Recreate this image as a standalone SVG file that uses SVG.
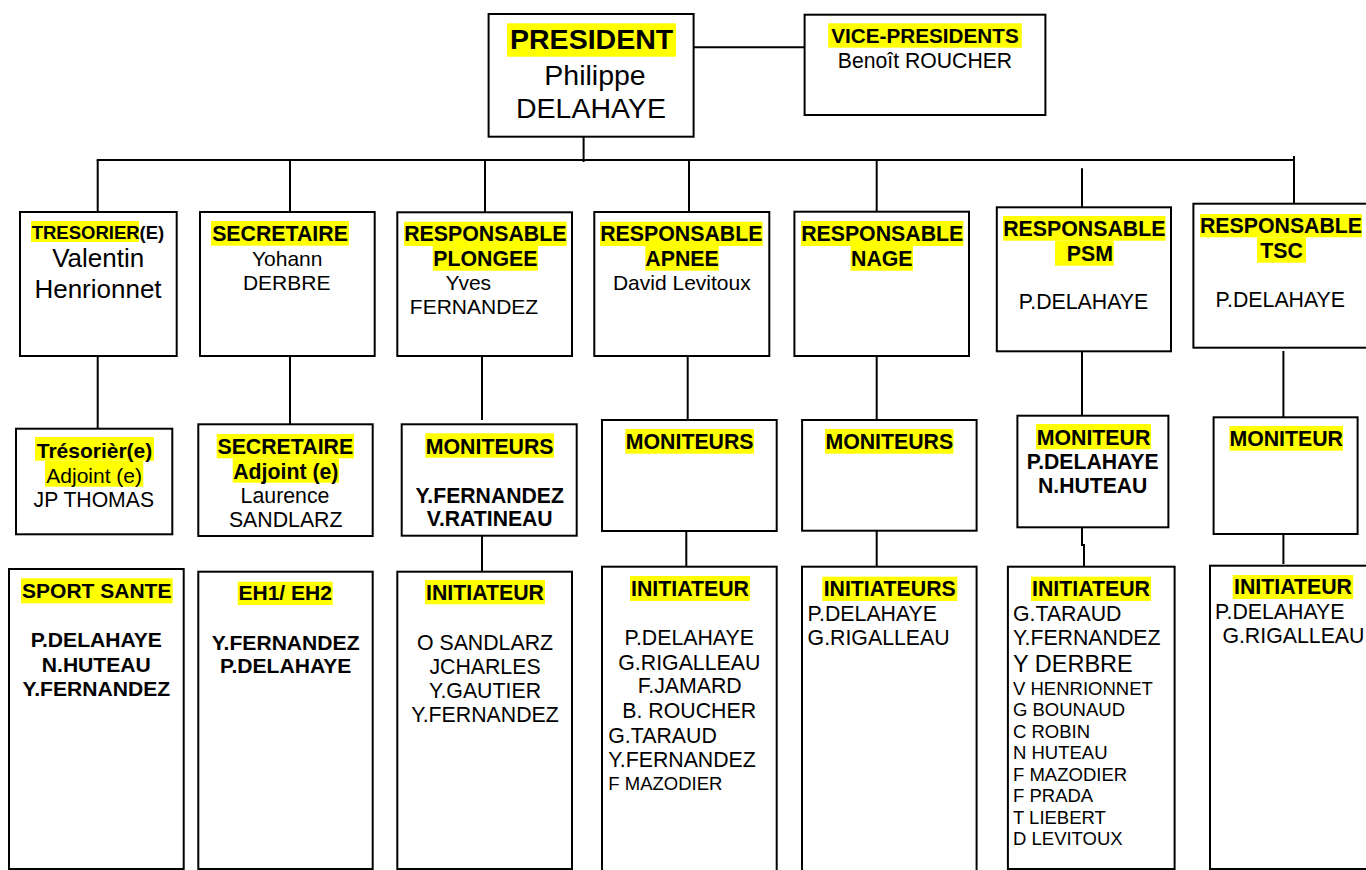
<svg xmlns="http://www.w3.org/2000/svg" width="1366" height="870" viewBox="0 0 1366 870">
<style>
.box{fill:#fff;stroke:#000;stroke-width:2}
.hl{fill:#ffff00}
.ln{fill:none;stroke:#000;stroke-width:2}
text{font-family:"Liberation Sans",Arial,sans-serif;fill:#000;font-size:21.3px}
.b{font-weight:bold}
.c{text-anchor:middle}
.s{font-size:18.5px}
</style>
<rect width="1366" height="870" fill="#fff"/>
<g id="connectors">
<line class="ln" x1="693.6" y1="47.3" x2="804.6" y2="47.3"/>
<line class="ln" x1="583.6" y1="136.7" x2="583.6" y2="162"/>
<line class="ln" x1="96.7" y1="160" x2="1295" y2="160"/>
<line class="ln" x1="1294" y1="156" x2="1294" y2="211"/>
<line class="ln" x1="97.7" y1="160" x2="97.7" y2="212"/>
<line class="ln" x1="290" y1="160" x2="290" y2="212"/>
<line class="ln" x1="485" y1="160" x2="485" y2="212"/>
<line class="ln" x1="689" y1="160" x2="689" y2="212"/>
<line class="ln" x1="876.7" y1="160" x2="876.7" y2="212"/>
<line class="ln" x1="1082" y1="168.3" x2="1082" y2="207.3"/>
<line class="ln" x1="97.7" y1="356" x2="97.7" y2="428.7"/>
<line class="ln" x1="290" y1="356" x2="290" y2="424.3"/>
<line class="ln" x1="482" y1="356" x2="482" y2="420"/>
<line class="ln" x1="687.7" y1="356" x2="687.7" y2="420"/>
<line class="ln" x1="876.7" y1="356" x2="876.7" y2="420"/>
<line class="ln" x1="1082" y1="351" x2="1082" y2="415.7"/>
<line class="ln" x1="1283.4" y1="351" x2="1283.4" y2="417.3"/>
<line class="ln" x1="482" y1="535.7" x2="482" y2="580"/>
<line class="ln" x1="686.3" y1="531" x2="686.3" y2="566.7"/>
<line class="ln" x1="876.7" y1="530.7" x2="876.7" y2="567"/>
<polyline class="ln" points="1082,527.3 1082,545 1084,545 1084,566.7"/>
<line class="ln" x1="1283.4" y1="534" x2="1283.4" y2="564"/>
</g>
<g id="president">
<rect class="box" x="488.6" y="14" width="205" height="122.7"/>
<rect class="hl" x="507" y="23.3" width="169" height="33.4"/>
<text class="b c" x="591.6" y="49.3" style="font-size:28.5px">PRESIDENT</text>
<text class="c" x="595" y="85" style="font-size:28.5px">Philippe</text>
<text class="c" x="591" y="118.3" style="font-size:28.5px">DELAHAYE</text>
</g>
<g id="vice-presidents">
<rect class="box" x="804.6" y="14.7" width="240.8" height="100.3"/>
<rect class="hl" x="828.2" y="23.3" width="193.6" height="24.4"/>
<text class="b c" x="925" y="43.3" style="font-size:20.7px">VICE-PRESIDENTS</text>
<text class="c" x="925" y="68.3" style="font-size:21.2px">Benoît ROUCHER</text>
</g>
<g id="tresorier">
<rect class="box" x="20" y="212" width="156.7" height="144"/>
<rect class="hl" x="31" y="221" width="108" height="21"/>
<text class="b s" x="31.7" y="239.3">TRESORIER(E)</text>
<text class="c" x="98.2" y="267" style="font-size:26px">Valentin</text>
<text class="c" x="98" y="298" style="font-size:26px">Henrionnet</text>
</g>
<g id="secretaire">
<rect class="box" x="200" y="212" width="174.7" height="144"/>
<rect class="hl" x="211" y="221" width="138" height="24.7"/>
<text class="b c" x="280" y="240.7">SECRETAIRE</text>
<text class="c" x="287.2" y="265.7" style="font-size:21px">Yohann</text>
<text class="c" x="286.7" y="290" style="font-size:21px">DERBRE</text>
</g>
<g id="resp-plongee">
<rect class="box" x="397.3" y="212.3" width="174.7" height="143.7"/>
<rect class="hl" x="404" y="221.7" width="162.7" height="24.3"/>
<rect class="hl" x="432.7" y="246" width="105.3" height="24.7"/>
<text class="b c" x="485.3" y="240.7">RESPONSABLE</text>
<text class="b c" x="485.3" y="265.7">PLONGEE</text>
<text class="c" x="468.3" y="290" style="font-size:21px">Yves</text>
<text class="c" x="474" y="314" style="font-size:21px">FERNANDEZ</text>
</g>
<g id="resp-apnee">
<rect class="box" x="594.3" y="212" width="175" height="144"/>
<rect class="hl" x="600" y="221.7" width="162.7" height="24.3"/>
<rect class="hl" x="645.3" y="246" width="73.4" height="24.7"/>
<text class="b c" x="681.3" y="240.7">RESPONSABLE</text>
<text class="b c" x="682" y="265.7">APNEE</text>
<text class="c" x="681.8" y="290" style="font-size:21px">David Levitoux</text>
</g>
<g id="resp-nage">
<rect class="box" x="794.4" y="211.7" width="174.6" height="144.3"/>
<rect class="hl" x="801" y="221" width="162.4" height="25"/>
<rect class="hl" x="850.6" y="246" width="62.4" height="24.7"/>
<text class="b c" x="882.2" y="240.7">RESPONSABLE</text>
<text class="b c" x="881.8" y="265.7">NAGE</text>
</g>
<g id="resp-psm">
<rect class="box" x="996.8" y="207.3" width="174.2" height="144"/>
<rect class="hl" x="1003" y="216" width="162.5" height="24.7"/>
<rect class="hl" x="1055" y="240.7" width="58.7" height="25"/>
<text class="b c" x="1084.3" y="235.8">RESPONSABLE</text>
<text class="b c" x="1089.8" y="261.2">PSM</text>
<text class="c" x="1083.5" y="309.3">P.DELAHAYE</text>
</g>
<g id="resp-tsc">
<rect class="box" x="1193.4" y="203.7" width="180" height="144"/>
<rect class="hl" x="1200" y="214" width="162" height="23.3"/>
<rect class="hl" x="1257" y="237.3" width="49" height="25.4"/>
<text class="b c" x="1281" y="233.3">RESPONSABLE</text>
<text class="b c" x="1281.5" y="258.3">TSC</text>
<text class="c" x="1280.3" y="306.7">P.DELAHAYE</text>
</g>
<g id="tresorier-adjoint">
<rect class="box" x="16" y="428.7" width="156.3" height="105.6"/>
<rect class="hl" x="35" y="437" width="119" height="23.7"/>
<rect class="hl" x="45" y="460.7" width="98.3" height="26"/>
<text class="b c" x="94.5" y="457.7" style="font-size:21px">Trésorièr(e)</text>
<text class="c" x="94.2" y="482.7" style="font-size:21px">Adjoint (e)</text>
<text class="c" x="93.8" y="506.7" style="font-size:21.2px">JP THOMAS</text>
</g>
<g id="secretaire-adjoint">
<rect class="box" x="198.3" y="424.3" width="174.4" height="111.7"/>
<rect class="hl" x="216.7" y="434" width="137.3" height="24.3"/>
<rect class="hl" x="232.7" y="458.3" width="106.3" height="24.4"/>
<text class="b c" x="285.3" y="454">SECRETAIRE</text>
<text class="b c" x="285.8" y="479">Adjoint (e)</text>
<text class="c" x="285" y="503.3">Laurence</text>
<text class="c" x="285.7" y="526.7">SANDLARZ</text>
</g>
<g id="moniteurs-plongee">
<rect class="box" x="401.7" y="424.3" width="175" height="111.4"/>
<rect class="hl" x="425.3" y="433.3" width="128.7" height="24.4"/>
<text class="b c" x="489.7" y="454">MONITEURS</text>
<text class="b c" x="489.7" y="502.7" style="font-size:21.2px">Y.FERNANDEZ</text>
<text class="b c" x="489.7" y="525.7" style="font-size:21.2px">V.RATINEAU</text>
</g>
<g id="moniteurs-apnee">
<rect class="box" x="602" y="420" width="174.7" height="111"/>
<rect class="hl" x="625.3" y="429" width="128.7" height="24.7"/>
<text class="b c" x="689.7" y="449.3">MONITEURS</text>
</g>
<g id="moniteurs-nage">
<rect class="box" x="802.1" y="420" width="174.5" height="110.7"/>
<rect class="hl" x="825" y="429" width="128.5" height="24.7"/>
<text class="b c" x="889.3" y="449.3">MONITEURS</text>
</g>
<g id="moniteur-psm">
<rect class="box" x="1017.4" y="415.7" width="151" height="111.6"/>
<rect class="hl" x="1036" y="424" width="115" height="25.3"/>
<text class="b c" x="1093.5" y="445">MONITEUR</text>
<text class="b c" x="1092.7" y="469" style="font-size:21.2px">P.DELAHAYE</text>
<text class="b c" x="1092.7" y="493.3" style="font-size:21.2px">N.HUTEAU</text>
</g>
<g id="moniteur-tsc">
<rect class="box" x="1213.6" y="417.3" width="144" height="116.7"/>
<rect class="hl" x="1229.4" y="426" width="113.6" height="24.7"/>
<text class="b c" x="1286.2" y="446">MONITEUR</text>
</g>
<g id="sport-sante">
<rect class="box" x="9" y="569" width="174.7" height="300"/>
<rect class="hl" x="21" y="578.3" width="151.7" height="25"/>
<text class="b c" x="96.8" y="598.3" style="font-size:21px">SPORT SANTE</text>
<text class="b c" x="96.3" y="647.3" style="font-size:21.1px">P.DELAHAYE</text>
<text class="b c" x="96.3" y="671.7" style="font-size:21.1px">N.HUTEAU</text>
<text class="b c" x="96.3" y="696" style="font-size:21.1px">Y.FERNANDEZ</text>
</g>
<g id="eh1-eh2">
<rect class="box" x="198.3" y="571.7" width="174.4" height="297.3"/>
<rect class="hl" x="237.7" y="581.7" width="95" height="23.3"/>
<text class="b c" x="285.2" y="600" style="font-size:21px">EH1/ EH2</text>
<text class="b c" x="285.7" y="650" style="font-size:21.1px">Y.FERNANDEZ</text>
<text class="b c" x="285.7" y="673.3" style="font-size:21.1px">P.DELAHAYE</text>
</g>
<g id="initiateur-plongee">
<rect class="box" x="397.3" y="571.7" width="174.7" height="297.3"/>
<rect class="hl" x="425" y="580" width="120" height="24.3"/>
<text class="b c" x="485" y="600">INITIATEUR</text>
<text class="c" x="485" y="650">O SANDLARZ</text>
<text class="c" x="485" y="674">JCHARLES</text>
<text class="c" x="485" y="698.3">Y.GAUTIER</text>
<text class="c" x="485" y="722.3">Y.FERNANDEZ</text>
</g>
<g id="initiateur-apnee">
<rect class="box" x="602" y="566.7" width="174.7" height="310"/>
<rect class="hl" x="630" y="576" width="120" height="25"/>
<text class="b c" x="690" y="596">INITIATEUR</text>
<text class="c" x="689.2" y="645">P.DELAHAYE</text>
<text class="c" x="689.3" y="670">G.RIGALLEAU</text>
<text class="c" x="689.7" y="693.3">F.JAMARD</text>
<text class="c" x="689.2" y="718.3">B. ROUCHER</text>
<text x="608.3" y="742.7">G.TARAUD</text>
<text x="608.3" y="766.7">Y.FERNANDEZ</text>
<text class="s" x="608.3" y="790">F MAZODIER</text>
</g>
<g id="initiateurs-nage">
<rect class="box" x="802" y="566.7" width="174.6" height="310"/>
<rect class="hl" x="822.3" y="576.7" width="135" height="24.3"/>
<text class="b c" x="889.7" y="596">INITIATEURS</text>
<text x="807.6" y="621">P.DELAHAYE</text>
<text x="807.6" y="645">G.RIGALLEAU</text>
</g>
<g id="initiateur-psm">
<rect class="box" x="1007.9" y="566.7" width="166.7" height="302.3"/>
<rect class="hl" x="1031" y="576.7" width="120" height="24.3"/>
<text class="b c" x="1091" y="596">INITIATEUR</text>
<text x="1013" y="621">G.TARAUD</text>
<text x="1013" y="645">Y.FERNANDEZ</text>
<text x="1013" y="671.7" style="font-size:23.5px">Y DERBRE</text>
<text class="s" x="1013" y="695">V HENRIONNET</text>
<text class="s" x="1013" y="716">G BOUNAUD</text>
<text class="s" x="1013" y="738.3">C ROBIN</text>
<text class="s" x="1013" y="759.3">N HUTEAU</text>
<text class="s" x="1013" y="780.7">F MAZODIER</text>
<text class="s" x="1013" y="802.3">F PRADA</text>
<text class="s" x="1013" y="824">T LIEBERT</text>
<text class="s" x="1013" y="845">D LEVITOUX</text>
</g>
<g id="initiateur-tsc">
<rect class="box" x="1210" y="565.7" width="170" height="303.3"/>
<rect class="hl" x="1232.7" y="575" width="120.5" height="24"/>
<text class="b c" x="1293" y="594.3">INITIATEUR</text>
<text x="1215" y="619.3">P.DELAHAYE</text>
<text x="1222.4" y="642.7">G.RIGALLEAU</text>
</g>
</svg>
